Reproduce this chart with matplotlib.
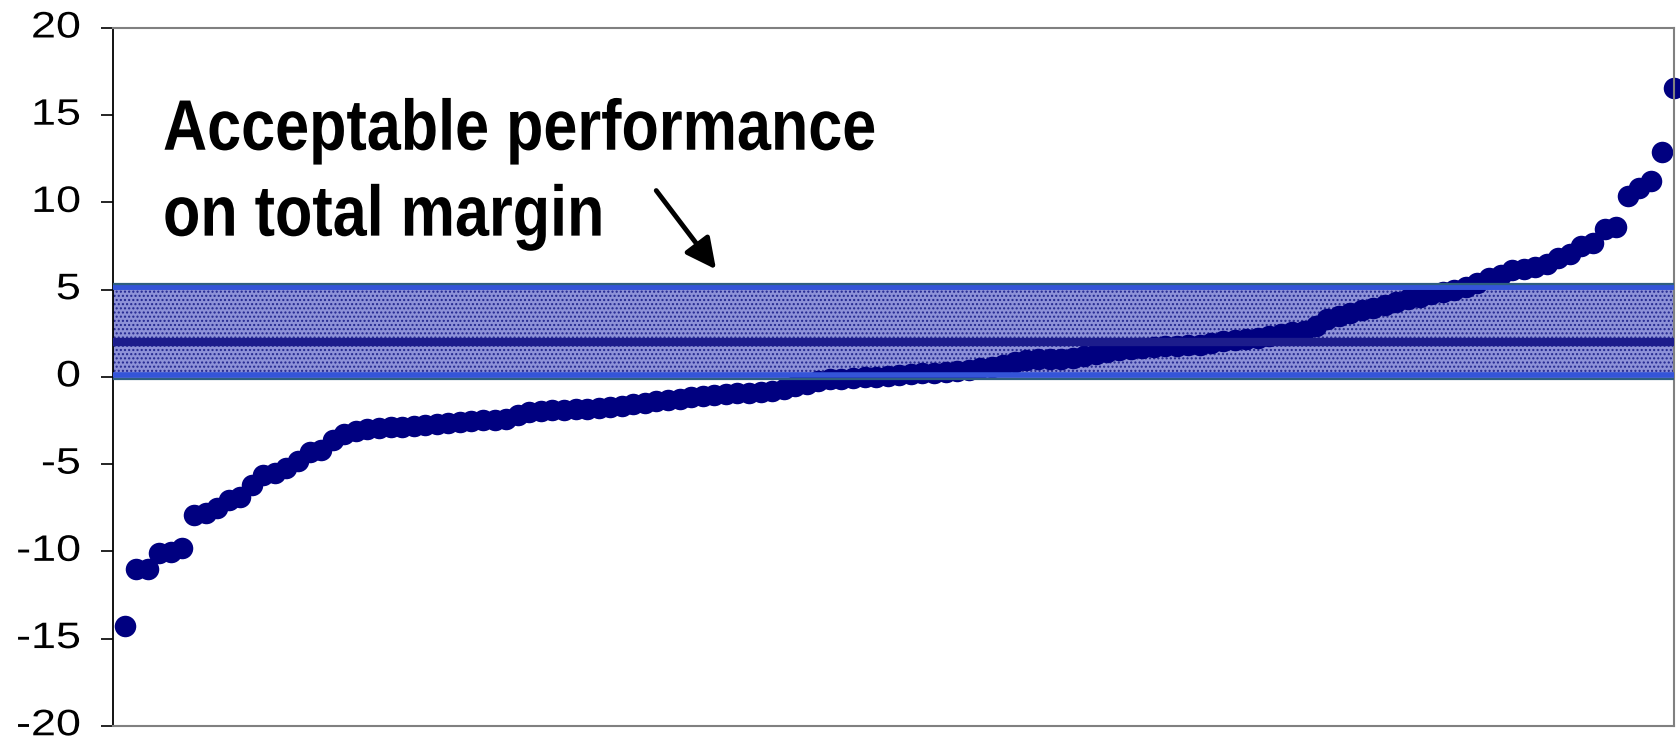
import numpy as np
import matplotlib
matplotlib.use("Agg")
import matplotlib.pyplot as plt
from matplotlib.patheffects import AbstractPathEffect
from matplotlib.transforms import Affine2D

# =====================================
# DATA (sorted ascending)
# =====================================

margin_diff = [
    -14.3, -11.0, -11.0, -10.1, -10.05, -9.8, -7.9, -7.8, -7.5, -7.05,
    -6.9, -6.2, -5.6, -5.5, -5.25, -4.8, -4.3, -4.2, -3.6,
    -3.3, -3.1, -3.0, -2.95, -2.9, -2.85, -2.8, -2.75, -2.7, -2.65,
    -2.6, -2.55, -2.5, -2.45, -2.4, -2.2, -2.0, -1.95, -1.92, -1.9,
    -1.87, -1.84, -1.8, -1.75, -1.65, -1.55, -1.5, -1.4, -1.3, -1.25,
    -1.15, -1.1, -1.05, -1.0, -0.95, -0.9, -0.85, -0.8, -0.7, -0.55,
    -0.4, -0.25, -0.15, -0.1, -0.05, 0.0, 0.02,
    0.05, 0.1, 0.15, 0.2, 0.25, 0.3, 0.35, 0.4, 0.48, 0.55,
    0.7, 0.85, 0.95, 1.0, 1.02, 1.05, 1.1, 1.2, 1.3, 1.45,
    1.55, 1.62, 1.67, 1.72, 1.75, 1.78, 1.8, 1.85, 1.95, 2.05,
    2.12, 2.18, 2.25, 2.35, 2.45, 2.55, 2.65,
    2.9, 3.3, 3.5, 3.65, 3.85, 3.95, 4.1, 4.3, 4.45, 4.6, 4.75, 4.85,
    5.0, 5.15, 5.4, 5.65, 5.85, 6.1, 6.2, 6.3, 6.45, 6.8,
    7.05, 7.5, 7.7, 8.45, 8.6, 10.35, 10.85, 11.2, 12.9, 16.55,
]
positions = list(range(1, len(margin_diff) + 1))

band_low = 0
band_high = 5.2
target = 2

y_ticks = [-20, -15, -10, -5, 0, 5, 10, 15, 20]
y_labels = ["-20", "-15", "-10", "-5", "0", "5", "10", "15", "20"]

note_lines = ["Acceptable performance", "on total margin"]


# stretch glyphs (the original uses condensed / stretched Arial)
class Stretch(AbstractPathEffect):
    def __init__(self, sx=1.0, sy=1.0, anchor=None):
        super().__init__()
        self.sx, self.sy, self.anchor = sx, sy, anchor

    def draw_path(self, renderer, gc, tpath, affine, rgbFace=None):
        if self.anchor is None:
            ext = tpath.transformed(affine).get_extents()
            x0, y0 = ext.x1, ext.y0
        else:
            x0, y0 = self.anchor()
        t = affine + Affine2D().translate(-x0, -y0).scale(self.sx, self.sy).translate(x0, y0)
        renderer.draw_path(gc, tpath, t, rgbFace)


# =====================================
# FIGURE
# =====================================

fig = plt.figure(figsize=(16.8, 7.44), dpi=100)
ax = fig.add_axes([0.0673, 0.0245, 0.9291, 0.9379])

# acceptable band (textured fill + edge stripes)
ax.axhspan(band_low - 0.15, band_high + 0.15, facecolor="#8e92d8",
           edgecolor="#22268f", hatch="....", lw=0, zorder=1)
ax.axhline(band_high, color="#3454d8", lw=5, zorder=4)
ax.axhline(band_high + 0.15, color="#2e5f80", lw=1.6, zorder=4)
ax.axhline(band_low + 0.1, color="#3454d8", lw=4, zorder=4)
ax.axhline(band_low - 0.12, color="#2e5f80", lw=1.6, zorder=4)

# target line
ax.axhline(target, color="#1c1c8c", lw=6, zorder=3)

# sorted observations
ax.plot(positions, margin_diff, "o", color="#000080", markersize=15.5,
        markeredgewidth=0, zorder=2, clip_on=False)

ax.set_xlim(0, len(margin_diff))
ax.set_ylim(-20, 20)
ax.set_xticks([])
ax.set_yticks(y_ticks)
ax.set_yticklabels(y_labels, fontsize=26.5, family="Liberation Sans", va="center")
ax.tick_params(axis="y", direction="out", length=8.5, width=1.2, pad=15)
for lab in ax.get_yticklabels():
    lab.set_path_effects([Stretch(sx=1.22)])

ax.spines["left"].set_color("black")
ax.spines["left"].set_linewidth(1.3)
for side in ["top", "right", "bottom"]:
    ax.spines[side].set_color("#808080")
    ax.spines[side].set_linewidth(1.5)

# annotation
note_pos = [(0.032, 0.8255), (0.032, 0.7024)]
for line, pos in zip(note_lines, note_pos):
    anchor = (lambda p=pos: ax.transAxes.transform(p))
    ax.text(pos[0], pos[1], line, transform=ax.transAxes, family="Liberation Sans",
            fontsize=44, fontweight="bold", va="baseline", ha="left",
            path_effects=[Stretch(sx=1.0, sy=1.17, anchor=anchor)])

ax.annotate("", xy=(0.3863, 0.654), xytext=(0.348, 0.767),
            xycoords="axes fraction", textcoords="axes fraction",
            arrowprops=dict(arrowstyle="-|>", color="black", lw=3.5,
                            mutation_scale=46, shrinkA=0, shrinkB=0))

fig.savefig("out.png", dpi=100)
